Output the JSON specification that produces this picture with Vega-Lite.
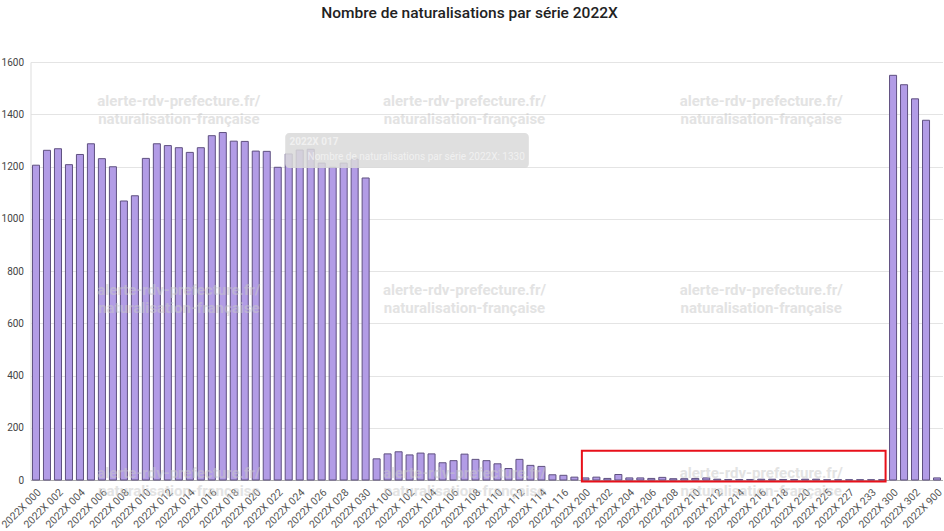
{
  "$schema": "https://vega.github.io/schema/vega-lite/v6.json",
  "autosize": {"type": "none"},
  "width": 912,
  "height": 418,
  "padding": {"left": 30.5, "top": 62, "right": 1.5, "bottom": 51},
  "background": "white",
  "title": {
    "text": "Nombre de naturalisations par série 2022X",
    "font": "Roboto",
    "fontSize": 15.5,
    "fontWeight": 500,
    "color": "#222222",
    "anchor": "middle",
    "dx": -17,
    "offset": 36
  },
  "config": {
    "view": {"stroke": null},
    "axis": {"labelFont": "Roboto", "labelColor": "#444444", "labelFontSize": 10, "titleFont": "Roboto"}
  },
  "datasets": {
    "series": [
      {"serie": "2022X 000", "n": 1205}, {"serie": "2022X 001", "n": 1262}, {"serie": "2022X 002", "n": 1268},
      {"serie": "2022X 003", "n": 1207}, {"serie": "2022X 004", "n": 1246}, {"serie": "2022X 005", "n": 1287},
      {"serie": "2022X 006", "n": 1230}, {"serie": "2022X 007", "n": 1199}, {"serie": "2022X 008", "n": 1068},
      {"serie": "2022X 009", "n": 1088}, {"serie": "2022X 010", "n": 1231}, {"serie": "2022X 011", "n": 1287},
      {"serie": "2022X 012", "n": 1280}, {"serie": "2022X 013", "n": 1272}, {"serie": "2022X 014", "n": 1254},
      {"serie": "2022X 015", "n": 1272}, {"serie": "2022X 016", "n": 1318}, {"serie": "2022X 017", "n": 1330},
      {"serie": "2022X 018", "n": 1297}, {"serie": "2022X 019", "n": 1296}, {"serie": "2022X 020", "n": 1259},
      {"serie": "2022X 021", "n": 1258}, {"serie": "2022X 022", "n": 1197}, {"serie": "2022X 023", "n": 1248},
      {"serie": "2022X 024", "n": 1263}, {"serie": "2022X 025", "n": 1266}, {"serie": "2022X 026", "n": 1213},
      {"serie": "2022X 027", "n": 1197}, {"serie": "2022X 028", "n": 1213}, {"serie": "2022X 029", "n": 1228},
      {"serie": "2022X 030", "n": 1156}, {"serie": "2022X 031", "n": 81},
      {"serie": "2022X 100", "n": 100}, {"serie": "2022X 101", "n": 108}, {"serie": "2022X 102", "n": 96},
      {"serie": "2022X 103", "n": 103}, {"serie": "2022X 104", "n": 100}, {"serie": "2022X 105", "n": 66},
      {"serie": "2022X 106", "n": 74}, {"serie": "2022X 107", "n": 99}, {"serie": "2022X 108", "n": 79},
      {"serie": "2022X 109", "n": 74}, {"serie": "2022X 110", "n": 62}, {"serie": "2022X 111", "n": 44},
      {"serie": "2022X 112", "n": 79}, {"serie": "2022X 113", "n": 56}, {"serie": "2022X 114", "n": 52},
      {"serie": "2022X 115", "n": 20}, {"serie": "2022X 116", "n": 18}, {"serie": "2022X 117", "n": 11},
      {"serie": "2022X 200", "n": 8}, {"serie": "2022X 201", "n": 11}, {"serie": "2022X 202", "n": 6},
      {"serie": "2022X 203", "n": 21}, {"serie": "2022X 204", "n": 8}, {"serie": "2022X 205", "n": 8},
      {"serie": "2022X 206", "n": 6}, {"serie": "2022X 207", "n": 10}, {"serie": "2022X 208", "n": 5},
      {"serie": "2022X 209", "n": 5}, {"serie": "2022X 210", "n": 6}, {"serie": "2022X 211", "n": 8},
      {"serie": "2022X 212", "n": 3}, {"serie": "2022X 213", "n": 2}, {"serie": "2022X 214", "n": 2},
      {"serie": "2022X 215", "n": 2}, {"serie": "2022X 216", "n": 3}, {"serie": "2022X 217", "n": 3},
      {"serie": "2022X 218", "n": 2}, {"serie": "2022X 219", "n": 2}, {"serie": "2022X 220", "n": 3},
      {"serie": "2022X 222", "n": 3}, {"serie": "2022X 225", "n": 1}, {"serie": "2022X 226", "n": 1},
      {"serie": "2022X 227", "n": 1}, {"serie": "2022X 230", "n": 1}, {"serie": "2022X 233", "n": 1},
      {"serie": "2022X 235", "n": 1},
      {"serie": "2022X 300", "n": 1549}, {"serie": "2022X 301", "n": 1513}, {"serie": "2022X 302", "n": 1459},
      {"serie": "2022X 303", "n": 1377}, {"serie": "2022X 900", "n": 8}
    ],
    "watermark": [
      {"serie": "2022X 013", "n": 1451}, {"serie": "2022X 107", "n": 1451}, {"serie": "2022X 216", "n": 1451},
      {"serie": "2022X 013", "n": 727}, {"serie": "2022X 107", "n": 727}, {"serie": "2022X 216", "n": 727},
      {"serie": "2022X 013", "n": 27}, {"serie": "2022X 107", "n": 27}, {"serie": "2022X 216", "n": 27}
    ],
    "highlight": [
      {"from": "2022X 200", "to": "2022X 235", "lo": -6, "hi": 112}
    ],
    "tipbox": [
      {"from": "2022X 023", "to": "2022X 113", "lo": 1194, "hi": 1328}
    ],
    "tiptitle": [
      {"serie": "2022X 023", "n": 1295, "label": "2022X 017"}
    ],
    "tipline": [
      {"serie": "2022X 025", "n": 1237, "label": "Nombre de naturalisations par série 2022X: 1330"}
    ]
  },
  "layer": [
    {
      "data": {"name": "series"},
      "mark": {"type": "bar", "fill": "#b29ce6", "stroke": "#5f5080", "strokeWidth": 1},
      "encoding": {
        "x": {
          "field": "serie", "type": "nominal", "sort": null,
          "scale": {"paddingInner": 0.36, "paddingOuter": 0.18},
          "axis": {
            "title": null,
            "labelAngle": -45,
            "labelOverlap": false,
            "ticks": false,
            "domainColor": "#aaaaaa",
            "labelPadding": 7,
            "labelFontSize": 10.5,
            "labelColor": "#555555",
            "values": ["2022X 000","2022X 002","2022X 004","2022X 006","2022X 008","2022X 010","2022X 012","2022X 014","2022X 016","2022X 018","2022X 020","2022X 022","2022X 024","2022X 026","2022X 028","2022X 030","2022X 100","2022X 102","2022X 104","2022X 106","2022X 108","2022X 110","2022X 112","2022X 114","2022X 116","2022X 200","2022X 202","2022X 204","2022X 206","2022X 208","2022X 210","2022X 212","2022X 214","2022X 216","2022X 218","2022X 220","2022X 225","2022X 227","2022X 233","2022X 300","2022X 302","2022X 900"]
          }
        },
        "y": {
          "field": "n", "type": "quantitative",
          "scale": {"domain": [0, 1600], "nice": false},
          "axis": {
            "title": null,
            "values": [0, 200, 400, 600, 800, 1000, 1200, 1400, 1600],
            "ticks": false,
            "labelPadding": 7,
            "domainColor": "#dddddd",
            "gridColor": "#e4e4e4",
            "format": "d"
          }
        }
      }
    },
    {
      "data": {"name": "watermark"},
      "mark": {"type": "text", "text": ["alerte-rdv-prefecture.fr/", "naturalisation-française"], "font": "Roboto", "fontSize": 15, "fontWeight": "bold", "fill": "#c8c8c8", "opacity": 0.5, "lineHeight": 18, "baseline": "middle"},
      "encoding": {
        "x": {"field": "serie", "type": "nominal", "sort": null},
        "y": {"field": "n", "type": "quantitative"}
      }
    },
    {
      "data": {"name": "highlight"},
      "mark": {"type": "rect", "fill": null, "stroke": "#e8101a", "strokeWidth": 2},
      "encoding": {
        "x": {"field": "from", "type": "nominal", "sort": null, "bandPosition": 0},
        "x2": {"field": "to", "bandPosition": 1},
        "y": {"field": "lo", "type": "quantitative"},
        "y2": {"field": "hi"}
      }
    },
    {
      "data": {"name": "tipbox"},
      "mark": {"type": "rect", "fill": "#d9d9d9", "opacity": 0.85, "cornerRadius": 4},
      "encoding": {
        "x": {"field": "from", "type": "nominal", "sort": null, "bandPosition": 0},
        "x2": {"field": "to", "bandPosition": 0.27},
        "y": {"field": "lo", "type": "quantitative"},
        "y2": {"field": "hi"}
      }
    },
    {
      "data": {"name": "tiptitle"},
      "mark": {"type": "text", "align": "left", "baseline": "middle", "font": "Roboto", "fontSize": 10, "fontWeight": "bold", "fill": "#ffffff", "opacity": 0.55},
      "encoding": {
        "x": {"field": "serie", "type": "nominal", "sort": null, "bandPosition": 0.6},
        "y": {"field": "n", "type": "quantitative"},
        "text": {"field": "label"}
      }
    },
    {
      "data": {"name": "tipline"},
      "mark": {"type": "text", "align": "left", "baseline": "middle", "font": "Roboto", "fontSize": 10, "fill": "#ffffff", "opacity": 0.55},
      "encoding": {
        "x": {"field": "serie", "type": "nominal", "sort": null, "bandPosition": 0.05},
        "y": {"field": "n", "type": "quantitative"},
        "text": {"field": "label"}
      }
    }
  ]
}
